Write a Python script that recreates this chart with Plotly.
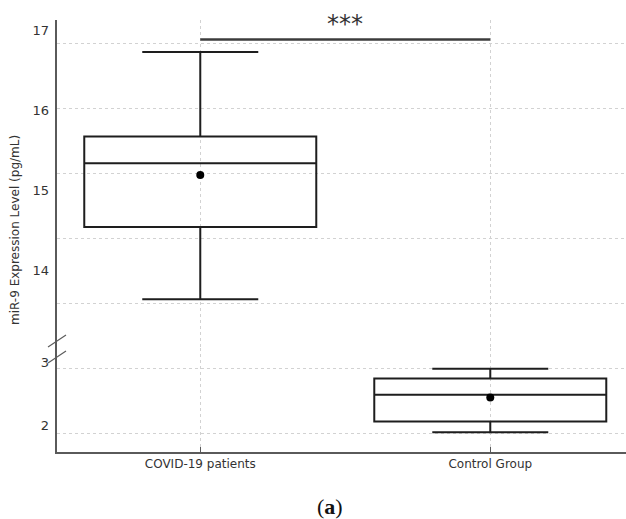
import plotly.graph_objects as go

# ---- data ----
categories = ["COVID-19 patients", "Control Group"]
q1 = [14.18, 2.18]
median = [15.16, 2.59]
q3 = [15.57, 2.84]
lower_whisker = [13.07, 2.015]
upper_whisker = [16.87, 2.99]
means = [14.98, 2.55]
sig_level = 17.06
sig_text = "***"
upper_ticks = [14, 15, 16, 17]
lower_ticks = [2, 3]
y_title = "miR-9 Expression Level (pg/mL)"
caption = "(<b>a</b>)"

# ---- layout geometry ----
W, H = 626, 519
ML, MR, MT, MB = 57, 0, 20, 67
PH = H - MT - MB          # plot height in px
PW = W - ML - MR
split_px = 348            # break position (page px)
split = (H - MB - split_px) / PH

BOX_COLOR = "#1e1e1e"
AXIS_COLOR = "#5a5a5a"
GRID_COLOR = "#d2d2d2"
FONT = "DejaVu Sans"

fig = go.Figure()

xs = [0, 1]
axes_for = ["y2", "y"]   # COVID on upper, control on lower
for i in range(2):
    fig.add_trace(go.Box(
        x=[xs[i]], q1=[q1[i]], median=[median[i]], q3=[q3[i]],
        lowerfence=[lower_whisker[i]], upperfence=[upper_whisker[i]],
        yaxis=axes_for[i], xaxis="x",
        width=0.8, whiskerwidth=0.5, boxpoints=False,
        fillcolor="rgba(255,255,255,0)",
        line=dict(color=BOX_COLOR, width=2),
        showlegend=False, hoverinfo="skip",
    ))
    fig.add_trace(go.Scatter(
        x=[xs[i]], y=[means[i]], yaxis=axes_for[i], xaxis="x",
        mode="markers", marker=dict(color="black", size=8),
        showlegend=False, hoverinfo="skip",
    ))

# significance bracket
fig.add_trace(go.Scatter(
    x=xs, y=[sig_level, sig_level], yaxis="y2", xaxis="x",
    mode="lines", line=dict(color="#3c3c3c", width=2.5),
    showlegend=False, hoverinfo="skip",
))
fig.add_annotation(x=0.5, y=sig_level, xref="x", yref="y2", text=sig_text,
                   showarrow=False, yshift=16,
                   font=dict(family=FONT, size=24, color="#333333"))

common_grid = dict(showgrid=True, gridcolor=GRID_COLOR, griddash="dot", gridwidth=1,
                   zeroline=False, showline=True, linecolor=AXIS_COLOR, linewidth=1.5,
                   showticklabels=False, ticks="")

fig.update_layout(
    width=W, height=H,
    margin=dict(l=ML, r=MR, t=MT, b=MB),
    plot_bgcolor="white", paper_bgcolor="white",
    xaxis=dict(range=[-0.494, 1.468], tickvals=xs, ticktext=categories,
               showgrid=True, gridcolor=GRID_COLOR, griddash="dot", gridwidth=1,
               zeroline=False, showline=True, linecolor=AXIS_COLOR, linewidth=1.5,
               ticks="inside", ticklen=5, tickcolor=AXIS_COLOR,
               tickfont=dict(family=FONT, size=12, color="#333333"),
               anchor="y"),
    yaxis=dict(domain=[0, split], range=[1.71, 3.31], tickvals=lower_ticks,
               anchor="x", **common_grid),
    yaxis2=dict(domain=[split, 1], range=[12.32, 17.36], tickvals=upper_ticks + [13],
                anchor="x", **common_grid),
    # label axes (tick labels in the reference sit offset from gridlines)
    yaxis3=dict(domain=[split, 1], range=[13.025, 17.125], tickvals=upper_ticks,
                overlaying="y2", anchor="x", side="left", showgrid=False,
                zeroline=False, showline=False, ticks="", ticklabelstandoff=7,
                tickfont=dict(family=FONT, size=13, color="#333333")),
    yaxis4=dict(domain=[0, split], range=[1.571, 3.222], tickvals=lower_ticks,
                overlaying="y", anchor="x", side="left", showgrid=False,
                zeroline=False, showline=False, ticks="", ticklabelstandoff=7,
                tickfont=dict(family=FONT, size=13, color="#333333")),
)

# dummy traces so label axes render
fig.add_trace(go.Scatter(x=[None], y=[None], yaxis="y3", xaxis="x", showlegend=False))
fig.add_trace(go.Scatter(x=[None], y=[None], yaxis="y4", xaxis="x", showlegend=False))

# axis break marks
for cy in (341, 357):
    fig.add_shape(type="line", xref="paper", yref="paper",
                  x0=(-9) / PW, x1=9 / PW,
                  y0=(H - MB - cy - 6) / PH, y1=(H - MB - cy + 6) / PH,
                  line=dict(color=AXIS_COLOR, width=1.2))

# y-axis title
fig.add_annotation(x=(15 - ML) / PW, y=(H - MB - 230) / PH, xref="paper", yref="paper",
                   xanchor="center", yanchor="middle",
                   text=y_title, textangle=-90, showarrow=False,
                   font=dict(family=FONT, size=12, color="#333333"))

# caption
fig.add_annotation(x=(330 - ML) / PW, y=(H - MB - 506) / PH, xref="paper", yref="paper",
                   xanchor="center", yanchor="middle",
                   text=caption, showarrow=False,
                   font=dict(family="Liberation Serif", size=22, color="#111111"))

fig.write_html("out.html")
